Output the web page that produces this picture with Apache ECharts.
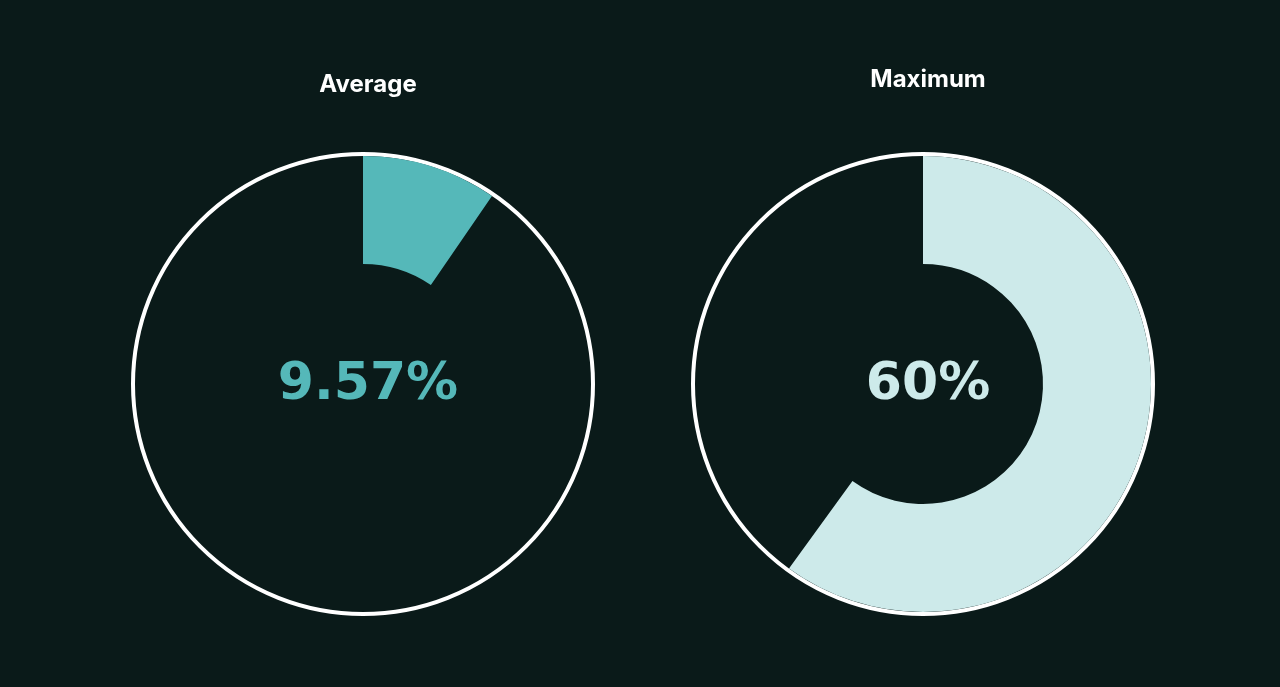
<!DOCTYPE html>
<html>
<head>
<meta charset="utf-8">
<script src="https://cdn.jsdelivr.net/npm/echarts@6/dist/echarts.min.js"></script>
<style>
  html, body { margin: 0; padding: 0; background: #0a1a19; }
  #chart { width: 1280px; height: 687px; }
</style>
</head>
<body>
<div id="chart"></div>
<script>
const titles = ['Average', 'Maximum'];
const values = [9.57, 60];
const labels = ['9.57%', '60%'];
const colors = ['#55b8b9', '#cdeaea'];

const centers = [[363, 384], [923, 384]];
const titleTops = [68, 63];

const chart = echarts.init(document.getElementById('chart'));

let series = [];
let title = [];
values.forEach((v, i) => {
    // white ring outline
    series.push({
        type: 'pie',
        silent: true,
        center: centers[i],
        radius: [0, 230],
        label: { show: false },
        data: [{ value: 1, itemStyle: { color: 'rgba(0,0,0,0)', borderColor: '#ffffff', borderWidth: 4 } }]
    });
    // value sector
    series.push({
        type: 'pie',
        silent: true,
        center: centers[i],
        radius: [120, 228],
        startAngle: 90,
        clockwise: true,
        label: { show: false },
        data: [
            { value: v, itemStyle: { color: colors[i] } },
            { value: 100 - v, itemStyle: { color: 'rgba(0,0,0,0)' } }
        ]
    });
    title.push({
        text: titles[i],
        left: centers[i][0],
        top: titleTops[i],
        textAlign: 'center',
        textStyle: { color: '#ffffff', fontFamily: 'Inter', fontWeight: 700, fontSize: 24 }
    });
    title.push({
        text: labels[i],
        left: centers[i][0],
        top: centers[i][1] - 30,
        textAlign: 'center',
        textStyle: { color: colors[i], fontFamily: 'DejaVu Sans', fontWeight: 900, fontSize: 52 }
    });
});

chart.setOption({
    backgroundColor: '#0a1a19',
    animation: false,
    title: title,
    series: series
});
</script>
</body>
</html>
